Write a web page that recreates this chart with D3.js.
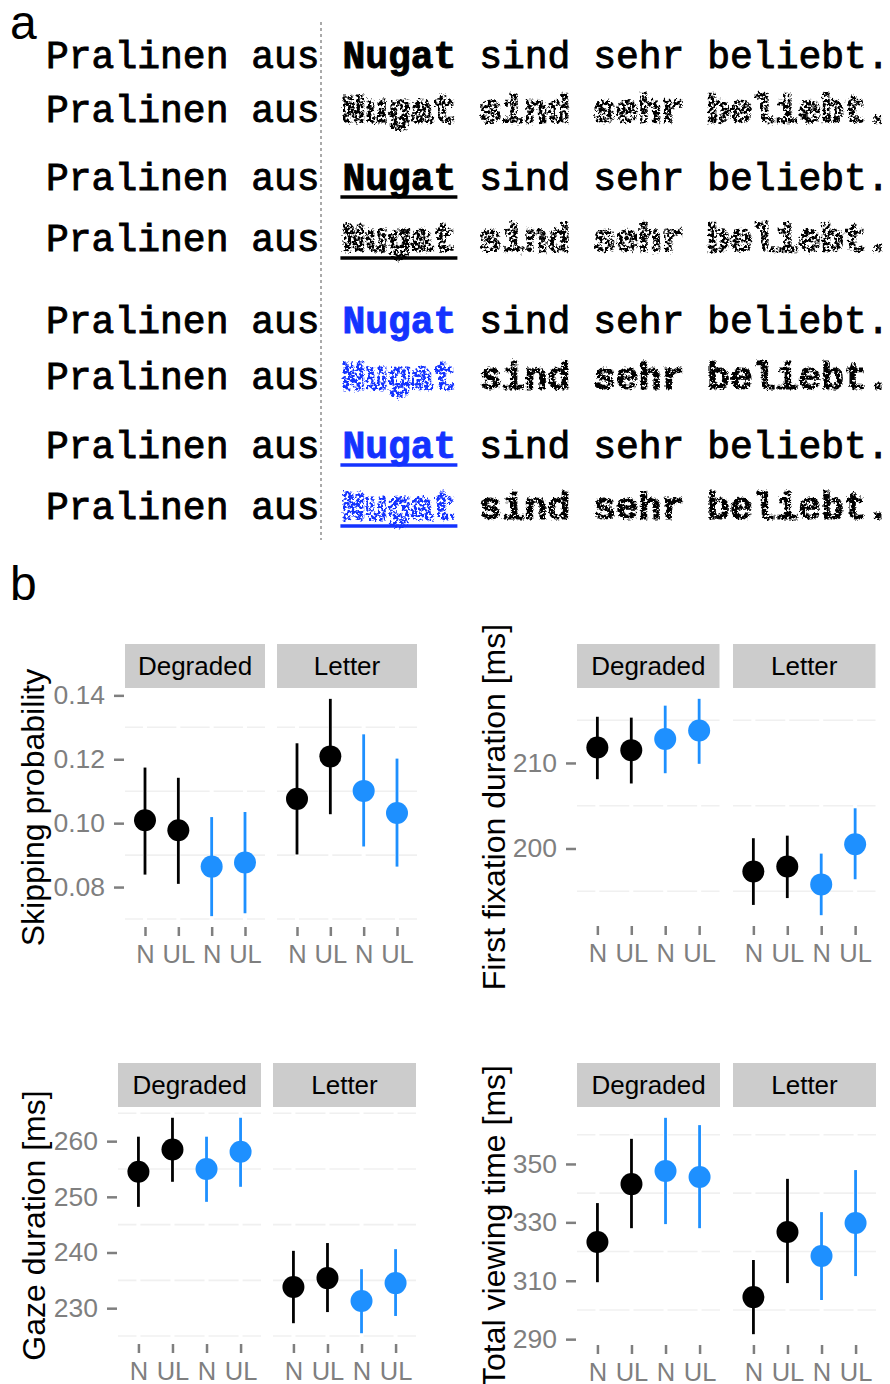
<!DOCTYPE html>
<html>
<head>
<meta charset="utf-8">
<script src="https://cdn.jsdelivr.net/npm/d3@7"></script>
<style>
    body { margin: 0; background: #fff; }
    svg { display: block; }
</style>
</head>
<body>
<svg id="fig"></svg>
<script>
// panel a: the eight sentence versions
const sentenceStart = 'Pralinen aus';
const targetWord = 'Nugat';
const sentenceEnd = 'sind sehr beliebt.';
const rowColour = ['black', 'black', 'black', 'black', 'blue', 'blue', 'blue', 'blue'];
const rowUnderline = [false, false, true, true, false, false, true, true];
const rowDegraded = [false, true, false, true, false, true, false, true];

// panel b: conditions and [mean, lower, upper] per condition
const facets = ['Degraded', 'Letter'];
const conditions = ['N', 'UL', 'N', 'UL'];
const conditionGroup = ['black', 'black', 'blue', 'blue'];

const skipDegraded = [[0.1009, 0.0839, 0.1174], [0.0978, 0.0810, 0.1142], [0.0864, 0.0709, 0.1019], [0.0877, 0.0718, 0.1035]];
const skipLetter = [[0.1076, 0.0902, 0.1250], [0.1209, 0.1028, 0.1389], [0.1101, 0.0927, 0.1278], [0.1032, 0.0864, 0.1202]];
const ffdDegraded = [[211.8, 208.1, 215.4], [211.5, 207.6, 215.3], [212.8, 208.8, 216.7], [213.8, 209.9, 217.5]];
const ffdLetter = [[197.3, 193.4, 201.2], [197.9, 194.2, 201.5], [195.8, 192.2, 199.4], [200.5, 196.4, 204.7]];
const gazeDegraded = [[254.5, 248.2, 260.8], [258.5, 252.7, 264.2], [255.0, 249.1, 260.8], [258.1, 251.8, 264.2]];
const gazeLetter = [[233.8, 227.3, 240.3], [235.4, 229.3, 241.7], [231.3, 225.5, 237.0], [234.5, 228.6, 240.6]];
const tvtDegraded = [[323.3, 309.5, 336.6], [343.1, 328.0, 358.6], [347.6, 329.4, 365.8], [345.5, 328.0, 363.3]];
const tvtLetter = [[304.4, 291.7, 317.1], [326.7, 309.2, 344.9], [318.5, 303.4, 333.5], [329.8, 311.6, 347.9]];

const skipTicks = [0.08, 0.10, 0.12, 0.14];
const ffdTicks = [200, 210];
const gazeTicks = [230, 240, 250, 260];
const tvtTicks = [290, 310, 330, 350];

const colours = { black: '#000000', blue: '#1e90ff' };
const wordBlue = '#1433ff';
const sans = 'Liberation Sans, Arial, Helvetica, sans-serif';
const mono = 'Liberation Mono, Courier New, monospace';

const svg = d3.select('#fig').attr('width', 890).attr('height', 1384);
svg.append('rect').attr('width', 890).attr('height', 1384).attr('fill', '#fff');

// noise filters for the degraded words
const defs = svg.append('defs');
function addNoise(id, freq, disp, a, b, seed) {
    const f = defs.append('filter').attr('id', id)
        .attr('x', '-5%').attr('y', '-40%').attr('width', '110%').attr('height', '180%')
        .attr('color-interpolation-filters', 'sRGB');
    f.append('feTurbulence').attr('type', 'fractalNoise').attr('baseFrequency', freq)
        .attr('numOctaves', 2).attr('seed', seed).attr('result', 'n');
    f.append('feDisplacementMap').attr('in', 'SourceGraphic').attr('in2', 'n').attr('scale', disp)
        .attr('xChannelSelector', 'R').attr('yChannelSelector', 'G').attr('result', 'd');
    f.append('feColorMatrix').attr('in', 'n').attr('type', 'matrix')
        .attr('values', `0 0 0 0 0  0 0 0 0 0  0 0 0 0 0  ${a} 0 0 0 ${b}`).attr('result', 'm');
    f.append('feComposite').attr('in', 'd').attr('in2', 'm').attr('operator', 'in');
}
addNoise('noiseHeavy', 0.35, 7, 8, -3.2, 4);
addNoise('noiseLight', 0.4, 5, 8, -2.4, 11);

// ---- panel a ----
svg.append('text').attr('x', 10).attr('y', 39).attr('font-family', sans)
    .attr('font-size', 48).text('a');

const fs = 38;
const cw = fs * 0.6;
const x0 = 46;
const rowBase = [68, 122, 190, 251, 333, 389, 458, 519];

svg.append('line')
    .attr('x1', 321).attr('x2', 321).attr('y1', 22).attr('y2', 540)
    .attr('stroke', '#aaaaaa').attr('stroke-width', 2).attr('stroke-dasharray', '3,3');

rowColour.forEach((col, i) => {
    const y = rowBase[i];
    const g = svg.append('g').attr('font-family', mono).attr('font-size', fs);
    g.append('text').attr('x', x0).attr('y', y)
        .attr('stroke', '#000').attr('stroke-width', 0.9).text(sentenceStart);
    const c = col === 'blue' ? wordBlue : '#000';
    const w = g.append('text').attr('x', x0 + 13 * cw).attr('y', y)
        .attr('font-weight', 'bold').attr('fill', c).attr('stroke', c).attr('stroke-width', 0.9)
        .text(targetWord);
    const e = g.append('text').attr('x', x0 + 19 * cw).attr('y', y)
        .attr('stroke', '#000').attr('stroke-width', 0.9).text(sentenceEnd);
    if (rowDegraded[i]) {
        w.attr('stroke-width', 3).attr('filter', 'url(#noiseHeavy)');
        e.attr('font-weight', 'bold').attr('stroke-width', col === 'blue' ? 1.2 : 2.4)
            .attr('filter', col === 'blue' ? 'url(#noiseLight)' : 'url(#noiseHeavy)');
    }
    if (rowUnderline[i]) {
        svg.append('line')
            .attr('x1', x0 + 13 * cw - 2).attr('x2', x0 + 18 * cw + 1)
            .attr('y1', y + 7).attr('y2', y + 7)
            .attr('stroke', c).attr('stroke-width', 3.5);
    }
});

// ---- panel b ----
svg.append('text').attr('x', 10).attr('y', 600).attr('font-family', sans)
    .attr('font-size', 48).text('b');

const plots = [
    { title: 'Skipping probability', data: [skipDegraded, skipLetter], ticks: skipTicks, fmt: '.2f',
      left: [125, 277], width: 140, top: 688, bottom: 927, titleX: 44 },
    { title: 'First fixation duration [ms]', data: [ffdDegraded, ffdLetter], ticks: ffdTicks, fmt: 'd',
      left: [577, 733], width: 142.5, top: 688, bottom: 926, titleX: 505 },
    { title: 'Gaze duration [ms]', data: [gazeDegraded, gazeLetter], ticks: gazeTicks, fmt: 'd',
      left: [118, 273], width: 143, top: 1107, bottom: 1344, titleX: 45 },
    { title: 'Total viewing time [ms]', data: [tvtDegraded, tvtLetter], ticks: tvtTicks, fmt: 'd',
      left: [577, 733], width: 143, top: 1107, bottom: 1345, titleX: 505 },
];

plots.forEach(drawPlot);

function drawPlot(p) {
    const all = p.data.flat();
    const lo = d3.min(all, (d) => d[1]);
    const hi = d3.max(all, (d) => d[2]);
    const pad = (hi - lo) * 0.05;
    const y = d3.scaleLinear().domain([lo - pad, hi + pad]).range([p.bottom, p.top]);

    const step = p.ticks[1] - p.ticks[0];
    const minor = d3.range(p.ticks[0] - step / 2, hi + pad, step).filter((v) => v > lo - pad);

    // y axis on the left facet only
    const yAxis = svg.append('g')
        .attr('transform', `translate(${p.left[0] - 1},0)`)
        .call(d3.axisLeft(y).tickValues(p.ticks).tickFormat(d3.format(p.fmt)).tickSize(10).tickPadding(9));
    yAxis.select('.domain').remove();
    yAxis.selectAll('line').attr('stroke', '#7f7f7f').attr('stroke-width', 2.5);
    yAxis.selectAll('text').attr('fill', '#7f7f7f').attr('font-family', sans).attr('font-size', 26.5);

    svg.append('text')
        .attr('transform', `translate(${p.titleX},${(p.top + p.bottom) / 2}) rotate(-90)`)
        .attr('text-anchor', 'middle').attr('font-family', sans).attr('font-size', 32)
        .text(p.title);

    facets.forEach((facet, fi) => {
        const x0p = p.left[fi];
        const x = d3.scalePoint().domain(d3.range(4)).range([x0p, x0p + p.width]).padding(0.6);

        // strip
        svg.append('rect').attr('x', x0p).attr('y', p.top - 44).attr('width', p.width).attr('height', 44)
            .attr('fill', '#cccccc');
        svg.append('text').attr('x', x0p + p.width / 2).attr('y', p.top - 13)
            .attr('text-anchor', 'middle').attr('font-family', sans).attr('font-size', 26)
            .text(facet);

        // grid
        const grid = svg.append('g');
        grid.selectAll('line.minor').data(minor).enter().append('line')
            .attr('x1', x0p).attr('x2', x0p + p.width)
            .attr('y1', (d) => y(d)).attr('y2', (d) => y(d))
            .attr('stroke', '#f0f0f0').attr('stroke-width', 1.6);
        grid.selectAll('line.major').data(d3.range(4)).enter().append('line')
            .attr('x1', (d) => x(d)).attr('x2', (d) => x(d))
            .attr('y1', p.top).attr('y2', p.bottom)
            .attr('stroke', '#fff').attr('stroke-width', 4);

        // x axis
        const xAxis = svg.append('g')
            .attr('transform', `translate(0,${p.bottom})`)
            .call(d3.axisBottom(x).tickFormat((i) => conditions[i]).tickSize(9).tickPadding(9));
        xAxis.select('.domain').remove();
        xAxis.selectAll('line').attr('stroke', '#7f7f7f').attr('stroke-width', 2.5);
        xAxis.selectAll('text').attr('fill', '#7f7f7f').attr('font-family', sans).attr('font-size', 25.5);

        // error bars and points
        const rows = p.data[fi];
        svg.append('g').selectAll('line').data(rows).enter().append('line')
            .attr('x1', (d, i) => x(i)).attr('x2', (d, i) => x(i))
            .attr('y1', (d) => y(d[1])).attr('y2', (d) => y(d[2]))
            .attr('stroke', (d, i) => colours[conditionGroup[i]]).attr('stroke-width', 2.8);
        svg.append('g').selectAll('circle').data(rows).enter().append('circle')
            .attr('cx', (d, i) => x(i)).attr('cy', (d) => y(d[0])).attr('r', 11)
            .attr('fill', (d, i) => colours[conditionGroup[i]]);
    });
}
</script>
</body>
</html>
